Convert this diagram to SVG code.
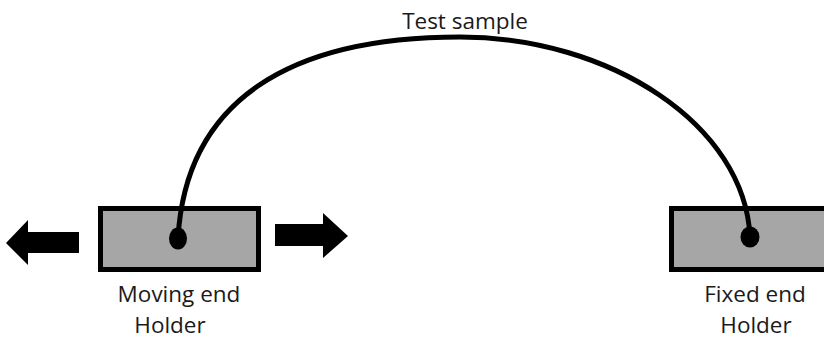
<svg xmlns="http://www.w3.org/2000/svg" width="824" height="339" viewBox="0 0 824 339">
  <style>
    .holder { fill: #a6a6a6; stroke: #000; stroke-width: 5; }
    .pin { fill: #000; }
    .sample { fill: none; stroke: #000; stroke-width: 5; stroke-linecap: round; }
    .motion { fill: #000; }
    .label { font-family: "Open Sans", "Noto Sans", sans-serif; font-size: 22.5px; fill: #1a1a1a; text-anchor: middle; }
  </style>
  <rect width="824" height="339" fill="#fff"/>

  <!-- moving end holder with its motion arrows -->
  <g id="moving-holder">
    <rect class="holder" x="100.5" y="208.5" width="158" height="61"/>
    <text class="label" x="179" y="302">Moving end</text>
    <text class="label" x="170" y="333">Holder</text>
  </g>
  <g id="arrow-left">
    <polygon class="motion" points="6,243 28,220 28,232 79,232 79,253 28,253 28,265"/>
  </g>
  <g id="arrow-right">
    <polygon class="motion" points="275,224 323,224 323,213 348,236 323,258 323,246 275,246"/>
  </g>

  <!-- fixed end holder, running off the right edge -->
  <g id="fixed-holder">
    <rect class="holder" x="671.5" y="208.5" width="170" height="61"/>
    <text class="label" x="755" y="302">Fixed end</text>
    <text class="label" x="756" y="333">Holder</text>
  </g>

  <!-- the test sample looping between the two pins -->
  <g id="connectors">
    <path class="sample" d="M178,238 C186,100 290,37 460,37 C610,37 745,125 750,237"/>
    <ellipse class="pin" cx="178" cy="238.5" rx="9" ry="11"/>
    <ellipse class="pin" cx="750" cy="237" rx="9.5" ry="10.5"/>
  </g>
  <g id="sample-label">
    <text class="label" x="465" y="29">Test sample</text>
  </g>
</svg>
